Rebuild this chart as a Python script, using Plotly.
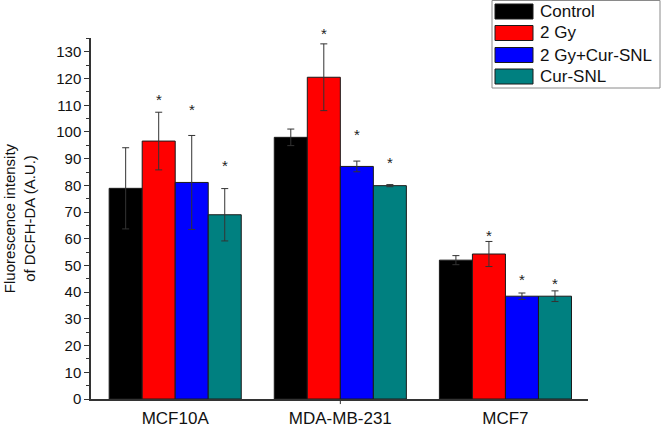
import plotly.graph_objects as go

cells = ['MCF10A', 'MDA-MB-231', 'MCF7']
groups = ['Control', '2 Gy', '2 Gy+Cur-SNL', 'Cur-SNL']
colors = ['#000000', '#ff0000', '#0000ff', '#008080']

control = [78.9, 98.0, 52.0]
gy2 = [96.6, 120.5, 54.3]
gy2_cur = [81.1, 87.1, 38.5]
cur = [69.0, 79.9, 38.5]

control_err = [15.2, 3.1, 1.7]
gy2_err = [10.8, 12.5, 4.7]
gy2_cur_err = [17.6, 2.0, 1.2]
cur_err = [9.8, 0.4, 2.0]

# asterisk heights (None = no star)
control_star = [None, None, None]
gy2_star = [112.0, 137.0, 61.2]
gy2_cur_star = [108.3, 98.9, 44.7]
cur_star = [87.3, 88.6, 43.4]

values = [control, gy2, gy2_cur, cur]
errors = [control_err, gy2_err, gy2_cur_err, cur_err]
stars = [control_star, gy2_star, gy2_cur_star, cur_star]

W, H = 661, 428
L, R, T, B = 91, 73, 38, 29
YMAX = 135.2


def px(x, y):
    # container pixels -> paper coords
    return (x - L) / (W - L - R), (H - B - y) / (H - T - B)


xs = list(range(len(cells)))
offsets = [-0.3, -0.1, 0.1, 0.3]
fig = go.Figure()
for g in range(len(groups)):
    fig.add_trace(go.Bar(x=xs, y=values[g], name=groups[g],
                         marker=dict(color=colors[g], line=dict(color='#1a1a1a', width=1)),
                         error_y=dict(type='data', array=errors[g], color='#333333',
                                      thickness=1, width=3.5)))

# significance stars (y domain so the tallest one is not hidden above the range)
for g in range(len(groups)):
    for i in xs:
        if stars[g][i] is not None:
            fig.add_annotation(x=i + offsets[g], xref='x', y=stars[g][i] / YMAX, yref='y domain',
                               text='*', showarrow=False, yanchor='middle',
                               font=dict(size=15, color='#222222'))

# single tick mark under the middle category
fig.add_shape(type='line', x0=1, x1=1, xref='x', y0=0, y1=-0.014, yref='paper',
              line=dict(color='#333333', width=1))

# legend box drawn by hand (wide swatches like the original)
bx0, by0 = px(492, 0.5)
bx1, by1 = px(660, 88)
fig.add_shape(type='rect', xref='paper', yref='paper', x0=bx0, y0=by0, x1=bx1, y1=by1,
              line=dict(color='#8a8a8a', width=1), fillcolor='white', layer='above')
row_y = [11.5, 33, 55, 76.5]
for g in range(len(groups)):
    sx0, sy0 = px(495, row_y[g] - 7.5)
    sx1, sy1 = px(533, row_y[g] + 7.5)
    fig.add_shape(type='rect', xref='paper', yref='paper', x0=sx0, y0=sy0, x1=sx1, y1=sy1,
                  fillcolor=colors[g], line=dict(color='#1a1a1a', width=1), layer='above')
    tx, ty = px(538, row_y[g])
    fig.add_annotation(xref='paper', yref='paper', x=tx, y=ty, text=groups[g],
                       showarrow=False, xanchor='left', yanchor='middle',
                       font=dict(size=17, color='#111111'))

fig.update_layout(
    width=W, height=H,
    margin=dict(l=L, r=R, t=T, b=B, autoexpand=False),
    plot_bgcolor='white', paper_bgcolor='white',
    font=dict(family='Liberation Sans, Arial', color='#111111'),
    barmode='group', bargap=0.2, bargroupgap=0,
    showlegend=False,
)
fig.update_xaxes(range=[-0.51, 2.5], tickvals=xs, ticktext=cells, ticks='',
                 showline=True, linecolor='#333333', linewidth=1.5, showgrid=False,
                 tickfont=dict(size=17), ticklabelstandoff=3, zeroline=False)
fig.update_yaxes(range=[0, YMAX], tick0=0, dtick=10, ticks='outside', ticklen=5,
                 tickcolor='#333333', showline=True, linecolor='#333333', linewidth=1.5,
                 showgrid=False, zeroline=False, tickfont=dict(size=15),
                 minor=dict(dtick=5, ticks='outside', ticklen=3, tickcolor='#333333'),
                 title=dict(text='Fluorescence intensity<br>of DCFH-DA (A.U.)',
                            font=dict(size=15), standoff=17))

# drop the default page margin so the figure sits at the window's corner
fig.write_html("out.html", config={'displayModeBar': False},
               post_script="document.body.style.margin='0';")
